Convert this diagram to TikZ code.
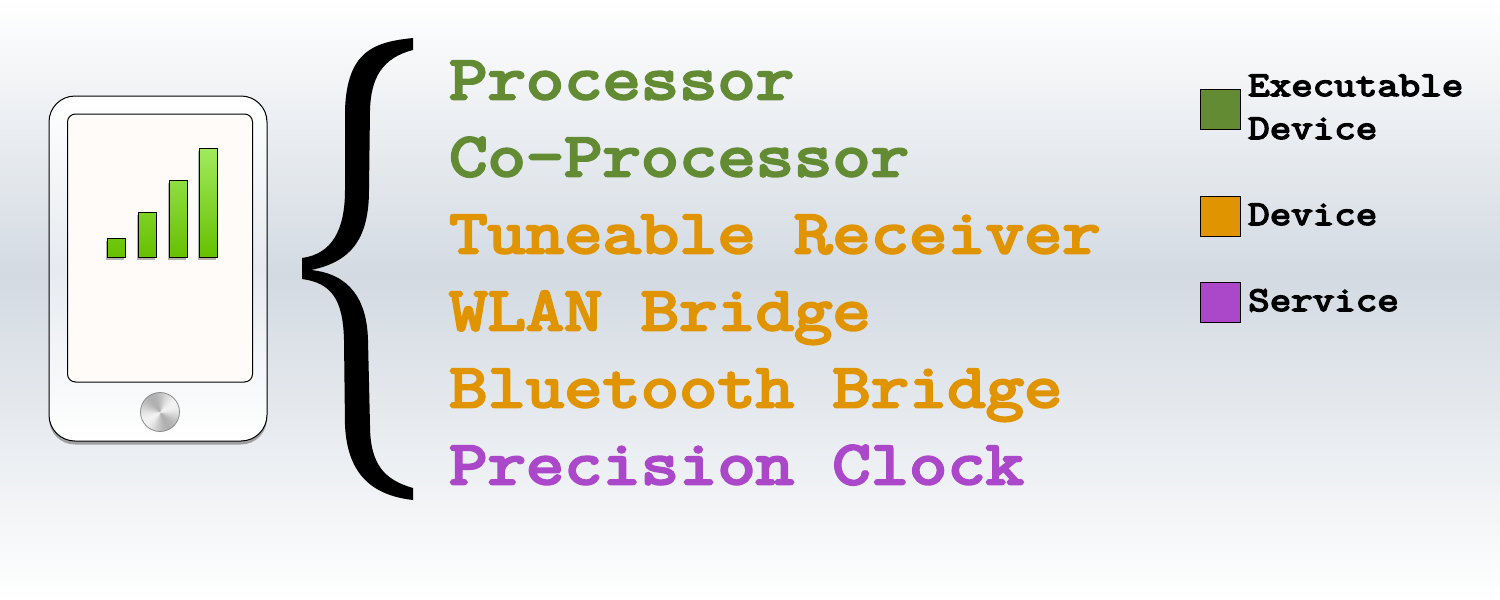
\documentclass[tikz,border=0pt]{standalone}
\usepackage{fontspec}
\usepackage{xcolor}
\usepackage{tikz}
\usetikzlibrary{shadows}
\newfontfamily\slabfont[FakeBold=4.4, FakeStretch=1.2]{Latin Modern Mono}
\definecolor{execgreen}{HTML}{628B33}
\definecolor{devorange}{HTML}{E09400}
\definecolor{servpurple}{HTML}{AB47C9}
\definecolor{bandgrey}{HTML}{D3DAE2}
\definecolor{barhi}{HTML}{A2EA5E}
\definecolor{barlo}{HTML}{66C000}
\pgfdeclareverticalshading{pagefade}{100bp}{color(0bp)=(white); color(25bp)=(white); color(52bp)=(bandgrey); color(75bp)=(white); color(100bp)=(white)}
\pgfdeclarefunctionalshading{knob}{\pgfpointorigin}{\pgfpoint{100bp}{100bp}}{}{50.01 sub exch 50.01 sub atan 2 mul 60 sub cos 0.13 mul 0.82 add dup dup}

\begin{document}
\begin{tikzpicture}[
    x=1pt, y=-1pt,
    every node/.style={inner sep=0pt, anchor=base west},
    item/.style={font=\fontsize{62}{62}\selectfont\slabfont},
    keybox/.style={draw=black, line width=1pt},
    keytext/.style={font=\fontsize{34.8}{35}\selectfont\slabfont},
    body/.style={draw=black, line width=1pt, top color=white, bottom color=white, middle color=bandgrey!55!white, drop shadow={shadow xshift=0pt, shadow yshift=-3.5pt, opacity=.7}},
    bar/.style={draw=black, line width=1pt, drop shadow={shadow xshift=-1.5pt, shadow yshift=-2.5pt, opacity=.6}}
  ]
    \useasboundingbox (0,0) rectangle (1500,600);
    \shade[shading=pagefade] (0,0) rectangle (1500,600);

    \path[body, rounded corners=26pt] (49,96) rectangle (267,441);
    \draw[line width=1pt, fill={rgb,255:red,255;green,251;blue,248}, rounded corners=8pt] (67.5,114) rectangle (252.5,382);
    \foreach \x/\ytop/\p in {107.5/238/17, 138/212/41, 169/180/70, 199.5/148/100}
      \path[bar, top color=barhi!\p!barlo, bottom color=barlo] (\x,\ytop) rectangle (\x+18,257);
    \draw[draw=black!45, line width=.8pt, shading=knob] (160,412) circle (19.5);

    \fill (413,38) .. controls (375,42) and (347,50) .. (345,110)
      -- (345,190) .. controls (345,230) and (332,254) .. (302,258)
      -- (302,279) .. controls (332,283) and (343,300) .. (344,340)
      -- (345,425) .. controls (347,470) and (368,495) .. (413,500)
      -- (413,488) .. controls (385,480) and (370,465) .. (370,425)
      -- (368,340) .. controls (367,300) and (350,274) .. (311,270)
      .. controls (350,262) and (369,240) .. (369,190)
      -- (370,110) .. controls (371,78) and (382,58) .. (413,50) -- cycle;

    \node[item, text=execgreen] (proc) at (449,99) {Processor};
    \node[item, text=execgreen] (coproc) at (449,176) {Co-Processor};
    \node[item, text=devorange] (tuner) at (449,253) {Tuneable Receiver};
    \node[item, text=devorange] (wlan) at (449,330) {WLAN Bridge};
    \node[item, text=devorange] (bluetooth) at (449,407) {Bluetooth Bridge};
    \node[item, text=servpurple] (clock) at (449,484) {Precision Clock};

    \draw[keybox, fill=execgreen] (1200,89) rectangle (1240,129);
    \draw[keybox, fill=devorange] (1200,196) rectangle (1240,236);
    \draw[keybox, fill=servpurple] (1200,282) rectangle (1240,322);
    \node[keytext] (keyexec) at (1248,96) {Executable};
    \node[keytext] (keyexecb) at (1248,139) {Device};
    \node[keytext] (keydev) at (1248,225) {Device};
    \node[keytext] (keyserv) at (1248,311) {Service};
  \end{tikzpicture}
\end{document}
